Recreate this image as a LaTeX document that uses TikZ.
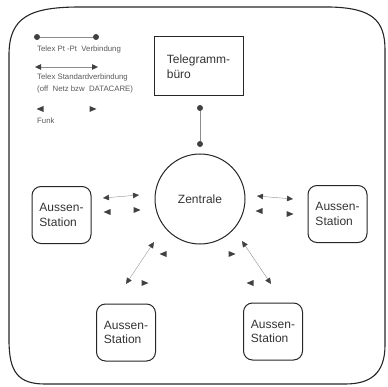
\documentclass[tikz,border=0pt]{standalone}
\usepackage{fontspec}
\setmainfont{Liberation Sans}
\usetikzlibrary{arrows.meta}
\tikzset{
  station/.style={draw=black!85, line width=1pt, rounded corners=9pt, minimum width=59pt, minimum height=57pt,
    align=left, inner sep=0pt, text=black!80, font=\fontsize{12}{14.5}\selectfont},
  telex/.style={draw=black!45, line width=0.4pt},
  std/.style={telex, {Triangle[length=6pt,width=5.5pt,color=black!75]}-{Triangle[length=6pt,width=5.5pt,color=black!75]}},
  dot/.style={circle, fill=black!75, minimum size=6pt, inner sep=0pt},
  legend/.style={anchor=west, inner sep=0pt, text=black!65, font=\fontsize{7.8}{9}\selectfont},
  funkl/.pic={\fill[black!75] (3.5,-3) -- (-3.5,0) -- (3.5,3) -- cycle;},
  funkr/.pic={\fill[black!75] (-3.5,-3) -- (3.5,0) -- (-3.5,3) -- cycle;}
}
\begin{document}
\begin{tikzpicture}[x=1pt,y=-1pt]
  \useasboundingbox (0,0) rectangle (387,387);
  % frame
  \draw[line width=1.1pt, black!85] (9,55) .. controls (9,17) and (30,7) .. (80,7) -- (330,7)
    .. controls (372,8) and (385,20) .. (385,50) -- (385,345) .. controls (385,374) and (370,384) .. (345,384)
    -- (45,384) .. controls (18,384) and (9,372) .. (9,340) -- cycle;
  % legend
  \node[dot] at (37,37) (lp1) {};
  \node[dot] at (96,37) (lp2) {};
  \draw[telex] (lp1) -- (lp2);
  \node[legend] at (37,49) (lt1) {Telex Pt -Pt\ \ Verbindung};
  \coordinate (ls1) at (35,67); \coordinate (ls2) at (98,67);
  \draw[std] (ls1) -- (ls2);
  \node[legend] at (37,77) (lt2) {Telex Standardverbindung};
  \node[legend] at (37,89) (lt3) {(off\ \ Netz bzw\ \ DATACARE)};
  \pic at (40,109) {funkl}; \pic at (93,109) {funkr};
  \node[legend] at (37,121) (lt4) {Funk};
  % nodes
  \node[draw=black!85, line width=1pt, minimum width=89pt, minimum height=59pt, align=left, inner sep=0pt,
    text=black!80, font=\fontsize{12}{14.5}\selectfont] at (198.5,66.5) (TB) {Telegramm-\\büro};
  \node[draw=black!85, line width=1pt, circle, minimum size=90pt, inner sep=0pt, text=black!80,
    font=\fontsize{12}{14.5}\selectfont] at (200,199) (Z) {Zentrale};
  \node[station] at (61.5,215) (SL) {Aussen-\\Station};
  \node[station] at (337.5,214) (SR) {Aussen-\\Station};
  \node[station] at (126,332.5) (SBL) {Aussen-\\Station};
  \node[station] at (273,331.5) (SBR) {Aussen-\\Station};
  % Telegrammbuero -- Zentrale
  \node[dot] at (200,108) (td1) {};
  \node[dot] at (200,144) (td2) {};
  \draw[telex] (td1) -- (td2);
  % Standardverbindungen
  \coordinate (l1) at (103,198); \coordinate (l2) at (139,195);
  \coordinate (r1) at (257,196); \coordinate (r2) at (293,199);
  \coordinate (bl1) at (126,284); \coordinate (bl2) at (154,242);
  \coordinate (br1) at (242,241); \coordinate (br2) at (271,284);
  \draw[std] (l1) -- (l2); \draw[std] (r1) -- (r2);
  \draw[std] (bl1) -- (bl2); \draw[std] (br1) -- (br2);
  % Funk
  \pic at (107,212) {funkl}; \pic at (137,210) {funkr};
  \pic at (259,211) {funkl}; \pic at (290,214) {funkr};
  \pic at (163,254) {funkl}; \pic at (145,283) {funkr};
  \pic at (232,254) {funkr}; \pic at (250,283) {funkl};
\end{tikzpicture}
\end{document}
